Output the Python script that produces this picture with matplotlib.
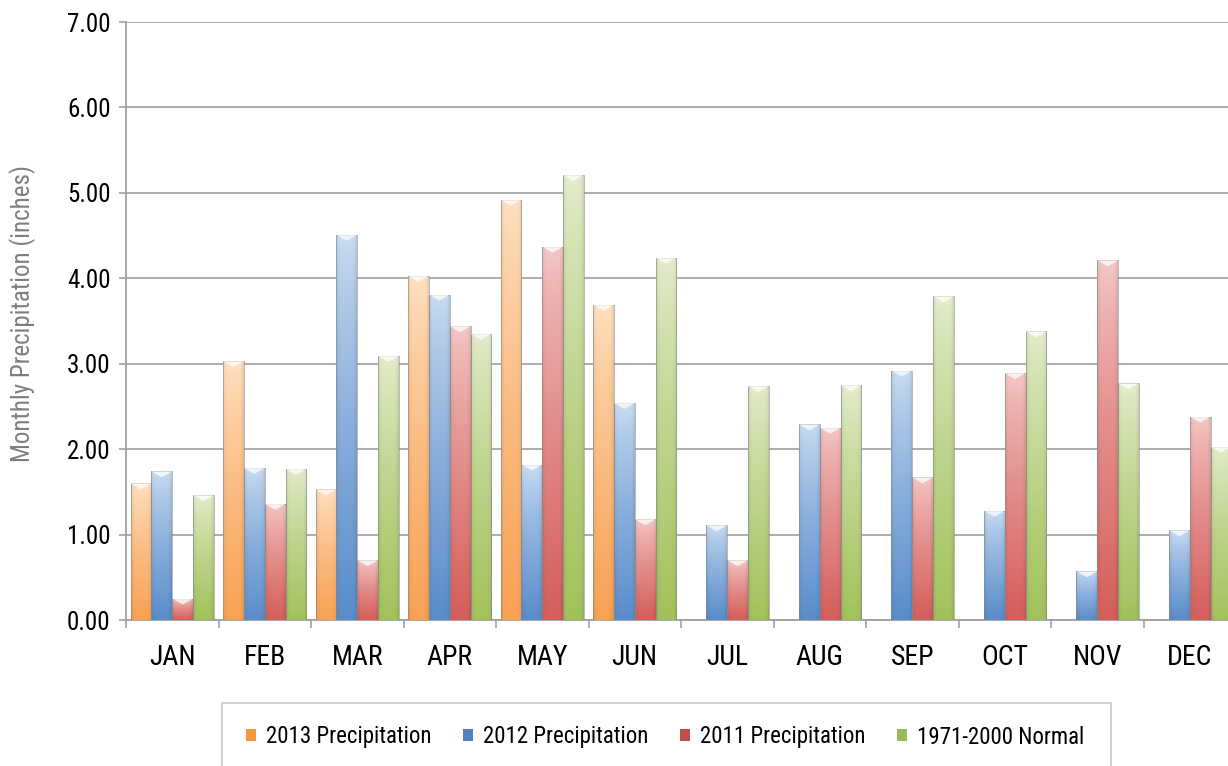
import matplotlib
matplotlib.use("Agg")
import matplotlib.pyplot as plt
import numpy as np
from matplotlib.colors import to_rgb
from matplotlib.patches import Patch, Polygon, Rectangle

FONT = ["Liberation Sans Narrow", "Roboto Condensed", "DejaVu Sans"]

months = ["JAN", "FEB", "MAR", "APR", "MAY", "JUN", "JUL", "AUG", "SEP", "OCT", "NOV", "DEC"]
series_names = ["2013 Precipitation", "2012 Precipitation", "2011 Precipitation", "1971-2000 Normal"]

precip_2013 = [1.60, 3.03, 1.53, 4.03, 4.92, 3.69, None, None, None, None, None, None]
precip_2012 = [1.74, 1.78, 4.51, 3.81, 1.82, 2.54, 1.11, 2.29, 2.92, 1.28, 0.57, 1.05]
precip_2011 = [0.25, 1.36, 0.70, 3.44, 4.37, 1.18, 0.70, 2.25, 1.67, 2.89, 4.21, 2.38]
normal_7100 = [1.46, 1.77, 3.09, 3.35, 5.21, 4.24, 2.74, 2.75, 3.79, 3.38, 2.77, 2.03]

y_ticks = [0, 1, 2, 3, 4, 5, 6, 7]

# light top / saturated bottom of each series gradient
top_colors = ["#ffe1c2", "#c9ddf2", "#f4c8c7", "#e4edcd"]
bottom_colors = ["#f8a254", "#5b8dcb", "#d55f5b", "#a2c25c"]
legend_colors = ["#f29a3c", "#4f81bd", "#c0504d", "#9bbb59"]

BAR_W = 0.225


def gradient_image(top, bottom, n=64):
    t = np.linspace(0, 1, n)[:, None]
    t = t ** 0.8
    a = np.array(to_rgb(top))
    b = np.array(to_rgb(bottom))
    rows = a + (b - a) * t
    # slight darkening towards the side edges for the bevel look
    xs = np.linspace(-1, 1, 24)
    side = 1 - 0.10 * np.abs(xs) ** 6
    img = rows[:, None, :] * side[None, :, None]
    return np.clip(img, 0, 1)


def draw_chart():
    fig = plt.figure(figsize=(12.28, 7.66), dpi=100)
    ax = fig.add_axes([126 / 1228, 1 - 620 / 766, 1110 / 1228, 598 / 766])

    all_series = [precip_2013, precip_2012, precip_2011, normal_7100]
    x = np.arange(len(months))
    for i, vals in enumerate(all_series):
        offset = (i - 1.5) * BAR_W
        heights = [0 if v is None else v for v in vals]
        bars = ax.bar(x + offset, heights, BAR_W, facecolor="none",
                      edgecolor="none", zorder=3)
        img = gradient_image(top_colors[i], bottom_colors[i])
        for v, bar in zip(vals, bars):
            if v is None:
                continue
            x0 = bar.get_x()
            x1 = x0 + bar.get_width()
            im = ax.imshow(img, extent=(x0, x1, 0, v), aspect="auto",
                           origin="upper", zorder=3, interpolation="bilinear")
            im.set_clip_path(bar)
            ax.add_patch(Rectangle((x0, 0), x1 - x0, v, fill=False,
                                   edgecolor="#8a8a8a", linewidth=0.7,
                                   alpha=0.6, zorder=4))
            bev = min(0.07, v * 0.4)
            ax.add_patch(Polygon([(x0, v), (x1, v), ((x0 + x1) / 2, v - bev)],
                                 closed=True, facecolor="white", alpha=0.75,
                                 edgecolor="none", zorder=4))

    ax.set_xlim(-0.5, len(months) - 0.5)
    ax.set_ylim(0, 7)
    ax.set_yticks(y_ticks)
    ax.set_yticklabels([f"{v:.2f}" for v in y_ticks], fontsize=18, family=FONT)
    ax.set_xticks(x)
    ax.set_xticklabels(months, fontsize=20, family=FONT)
    ax.set_xticks(np.arange(-0.5, len(months)), minor=True)
    ax.tick_params(axis="x", which="major", length=0, pad=17)
    ax.tick_params(axis="x", which="minor", length=6, color="#a0a0a0", width=1.2)
    ax.tick_params(axis="y", length=5, color="#a0a0a0", width=1.2, pad=6)

    ax.grid(axis="y", color="#a6a6a6", linewidth=1.3, zorder=0)
    ax.set_axisbelow(True)
    for side in ("top", "right"):
        ax.spines[side].set_visible(False)
    for side in ("left", "bottom"):
        ax.spines[side].set_color("#a0a0a0")
        ax.spines[side].set_linewidth(1.3)

    fig.text(23 / 1228, 1 - 313 / 766, "Monthly Precipitation (inches)",
             rotation=90, va="center", ha="center", fontsize=18,
             color="#7f7f7f", family=FONT)

    fig.patches.append(Rectangle((222 / 1228, -0.02), 889 / 1228, 63 / 766 + 0.02,
                                 transform=fig.transFigure, fill=False,
                                 edgecolor="#c8c8c8", linewidth=1.2))
    handles = [Patch(facecolor=c, edgecolor="none") for c in legend_colors]
    fig.legend(handles, series_names, loc="center", ncol=4, frameon=False,
               bbox_to_anchor=(665 / 1228, 1 - 737 / 766),
               prop={"family": FONT, "size": 16.5},
               handlelength=0.45, handleheight=0.45, handletextpad=0.45,
               columnspacing=1.35)

    fig.savefig("out.png", dpi=100)


if __name__ == "__main__":
    draw_chart()
